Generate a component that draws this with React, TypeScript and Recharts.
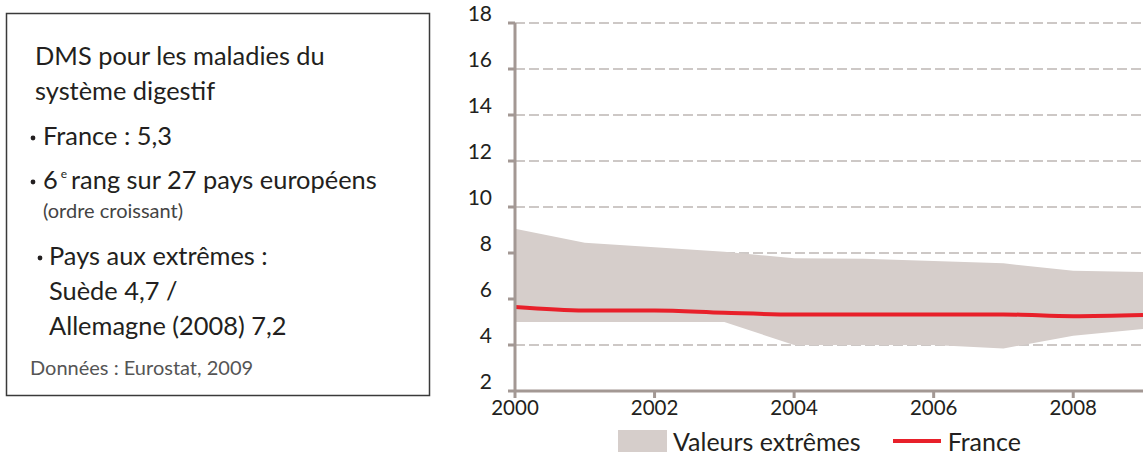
import {
  ComposedChart,
  Area,
  Line,
  CartesianGrid,
  XAxis,
  YAxis,
  Legend,
} from "recharts";

const YEARS = [2000, 2001, 2002, 2003, 2004, 2005, 2006, 2007, 2008, 2009];
const MIN_VALUES = [5.0, 5.0, 5.0, 5.0, 4.0, 4.0, 4.0, 3.85, 4.4, 4.7];
const MAX_VALUES = [9.05, 8.45, 8.25, 8.05, 7.77, 7.75, 7.65, 7.55, 7.23, 7.17];
const FRANCE = [5.65, 5.5, 5.5, 5.4, 5.33, 5.33, 5.33, 5.33, 5.25, 5.3];
const X_TICKS = [2000, 2002, 2004, 2006, 2008];
const Y_TICKS = [2, 4, 6, 8, 10, 12, 14, 16, 18];

const data = YEARS.map((year, i) => ({
  year,
  range: [MIN_VALUES[i], MAX_VALUES[i]],
  france: FRANCE[i],
}));

const FONT = "Lato, 'Open Sans', sans-serif";
const AXIS_COLOR = "#a39894";
const GRID_COLOR = "#9c918d";
const AREA_COLOR = "#d6cecb";
const RED = "#e8202a";
const TEXT_COLOR = "#231f20";

function YTick(props: any) {
  const { x, y, payload } = props;
  return (
    <text x={x} y={y - 9} dy={7} textAnchor="end" fontSize={21} fill={TEXT_COLOR} fontFamily={FONT}>
      {payload.value}
    </text>
  );
}

function XTick(props: any) {
  const { x, y, payload } = props;
  return (
    <text x={x} y={y} dy={15} textAnchor="middle" fontSize={20.5} fill={TEXT_COLOR} fontFamily={FONT}>
      {payload.value}
    </text>
  );
}

function LegendContent() {
  return (
    <div
      style={{
        display: "flex",
        alignItems: "center",
        fontFamily: FONT,
        fontSize: 25,
        lineHeight: "28px",
        color: TEXT_COLOR,
        position: "relative",
        left: 178,
        top: 6,
      }}
    >
      <span style={{ width: 49, height: 22, background: AREA_COLOR, display: "inline-block", marginRight: 6 }} />
      <span style={{ marginRight: 32 }}>Valeurs extrêmes</span>
      <span style={{ width: 48, height: 4, background: RED, display: "inline-block", marginRight: 7 }} />
      <span>France</span>
    </div>
  );
}

function Bullet({ x, y }: { x: number; y: number }) {
  return <circle cx={x} cy={y} r={2.4} fill={TEXT_COLOR} />;
}

function InfoBox() {
  const t = { fontFamily: FONT, fill: TEXT_COLOR } as const;
  const fs = 25.4;
  return (
    <svg width={440} height={456} style={{ position: "absolute", left: 0, top: 0 }}>
      <rect x={6.5} y={13.5} width={423} height={382} fill="#fff" stroke="#3a3a3a" strokeWidth={1.5} />
      <text x={35} y={65} fontSize={fs} {...t}>DMS pour les maladies du</text>
      <text x={35} y={100} fontSize={fs} {...t}>système digestif</text>
      <Bullet x={33} y={138} />
      <text x={43} y={145} fontSize={fs} {...t}>France : 5,3</text>
      <Bullet x={33} y={182} />
      <text x={43} y={189} fontSize={fs} {...t}>
        6<tspan fontSize={12} dy={-11} dx={3}>e</tspan>
        <tspan dy={11} dx={4}>rang sur 27 pays européens</tspan>
      </text>
      <text x={43} y={218} fontSize={20} {...t} fill="#444">(ordre croissant)</text>
      <Bullet x={40} y={258} />
      <text x={49} y={265} fontSize={fs} {...t}>Pays aux extrêmes :</text>
      <text x={49} y={300} fontSize={fs} {...t}>Suède 4,7 /</text>
      <text x={49} y={335} fontSize={fs} {...t}>Allemagne (2008) 7,2</text>
      <text x={30} y={375} fontSize={20} {...t} fill="#555">Données : Eurostat, 2009</text>
    </svg>
  );
}

export default function App() {
  return (
    <div style={{ position: "absolute", left: 0, top: 0, width: 1143, height: 456, background: "#fff", overflow: "hidden" }}>
      <InfoBox />
      <div style={{ position: "absolute", left: 440, top: 0 }}>
        <ComposedChart width={703} height={456} data={data} margin={{ top: 23, right: 0, bottom: 0, left: 0 }}>
          <CartesianGrid
            horizontal
            vertical={false}
            stroke={GRID_COLOR}
            strokeDasharray="10 4"
            strokeWidth={1.2}
          />
          <XAxis
            dataKey="year"
            type="number"
            domain={[2000, 2009]}
            ticks={X_TICKS}
            allowDataOverflow
            axisLine={{ stroke: AXIS_COLOR, strokeWidth: 3 }}
            tickLine={{ stroke: AXIS_COLOR, strokeWidth: 3 }}
            tickSize={7}
            tick={<XTick />}
            height={30}
          />
          <YAxis
            type="number"
            domain={[2, 18]}
            ticks={Y_TICKS}
            width={75}
            axisLine={{ stroke: AXIS_COLOR, strokeWidth: 3 }}
            tickLine={{ stroke: AXIS_COLOR, strokeWidth: 3 }}
            tickSize={7}
            tickMargin={16}
            tick={<YTick />}
          />
          <Area
            dataKey="range"
            type="linear"
            fill={AREA_COLOR}
            fillOpacity={1}
            stroke="none"
            isAnimationActive={false}
          />
          <Line
            dataKey="france"
            type="monotone"
            stroke={RED}
            strokeWidth={4}
            dot={false}
            isAnimationActive={false}
          />
          <Legend verticalAlign="bottom" height={35} content={<LegendContent />} />
        </ComposedChart>
      </div>
    </div>
  );
}
